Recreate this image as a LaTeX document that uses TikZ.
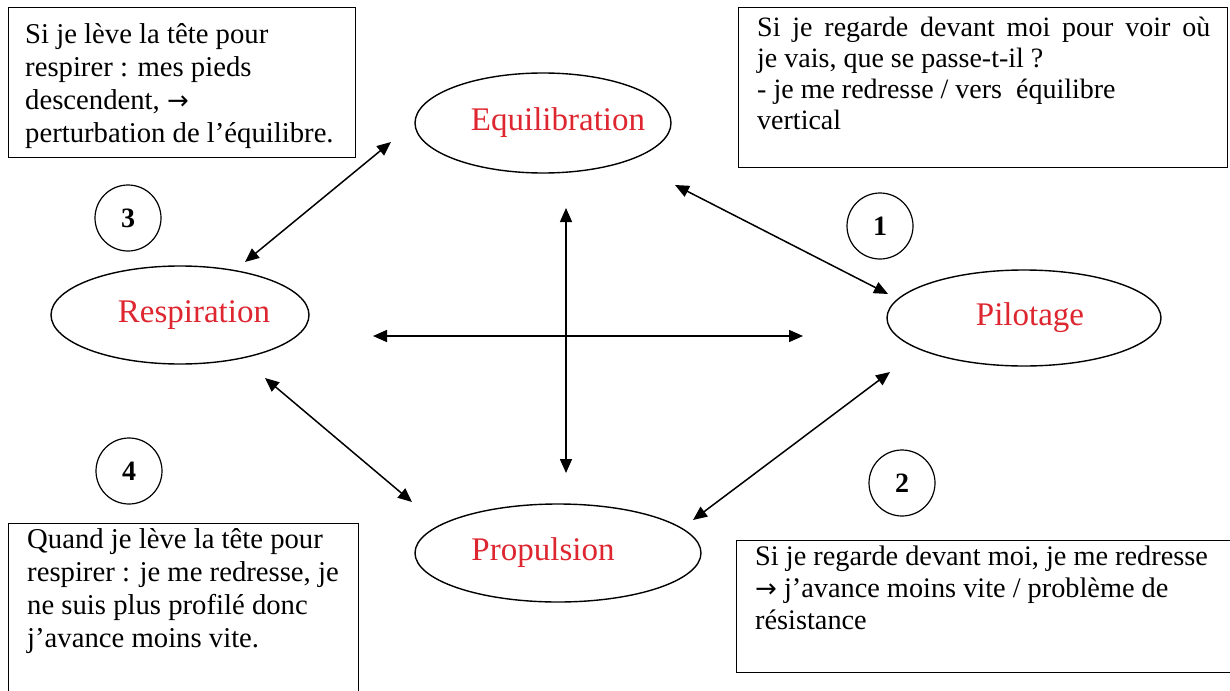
\documentclass[tikz,border=0pt]{standalone}
\usepackage{fontspec}
\setmainfont{Liberation Serif}
\newfontfamily\arrowfont{DejaVu Sans}
\newcommand{\rarr}{{\arrowfont\fontsize{26}{26}\selectfont →}}
\newcommand{\shifted}[2]{\makebox[0pt][c]{\hspace{#1}#2}}
\usetikzlibrary{arrows.meta,shapes.geometric}
\definecolor{lblred}{RGB}{222,38,48}
\begin{document}
\begin{tikzpicture}[x=1pt,y=-1pt,
  tbox/.style={draw, line width=1.4pt, rectangle, inner sep=0pt, anchor=north west},
  txt/.style={align=left, inner sep=0pt, anchor=north west},
  oval/.style={draw, ellipse, line width=1.4pt, inner sep=0pt, text=lblred, font=\fontsize{33}{38}\selectfont},
  num/.style={draw, circle, line width=1.2pt, minimum size=66pt, inner sep=0pt, font=\fontsize{28}{33}\selectfont\bfseries},
  arr/.style={line width=1.5pt, {Triangle[length=14pt,width=12pt]}-{Triangle[length=14pt,width=12pt]}}
]
\clip (0,0) rectangle (1230,690);
\fill[white] (0,0) rectangle (1230,690);

% text boxes
\node[tbox, minimum width=347pt, minimum height=150pt] (b1) at (8,7) {};
\node[txt, font=\fontsize{28.7}{33}\selectfont] (t1) at (25,23)
  {Si je lève la tête pour\\respirer : mes pieds\\descendent, \rarr\\perturbation de l’équilibre.};

\node[tbox, minimum width=489pt, minimum height=160pt] (b2) at (738,7) {};
\node[txt, font=\fontsize{28}{31}\selectfont] (t2) at (757,17)
  {\makebox[453pt][s]{Si je regarde devant moi pour voir où}\\je vais, que se passe-t-il ?\\- je me redresse / vers~ équilibre\\vertical};

\node[tbox, minimum width=350pt, minimum height=180pt] (b3) at (8,523) {};
\node[txt, font=\fontsize{28.7}{33}\selectfont] (t3) at (27,528)
  {Quand je lève la tête pour\\respirer : je me redresse, je\\ne suis plus profilé donc\\j’avance moins vite.};

\node[tbox, minimum width=500pt, minimum height=132pt] (b4) at (736,540) {};
\node[txt, font=\fontsize{28.3}{32}\selectfont] (t4) at (755,546)
  {Si je regarde devant moi, je me redresse\\\rarr{} j’avance moins vite / problème de\\résistance};

% ellipses
\node[oval, minimum width=256pt, minimum height=100pt] (equ) at (543,123) {\shifted{30pt}{Equilibration}};
\node[oval, minimum width=258pt, minimum height=98pt] (res) at (180,315) {\shifted{28pt}{Respiration}};
\node[oval, minimum width=274pt, minimum height=96pt] (pil) at (1024,318) {\shifted{12pt}{Pilotage}};
\node[oval, minimum width=286pt, minimum height=98pt] (pro) at (558,553) {\shifted{-30pt}{Propulsion}};

% numbers
\node[num] (n3) at (128,218) {3};
\node[num] (n1) at (880,226) {1};
\node[num] (n4) at (129,471) {4};
\node[num] (n2) at (902,483) {2};

% arrow end points
\coordinate (er1) at (391,142);
\coordinate (er2) at (245,262);
\coordinate (ep1) at (675,185);
\coordinate (ep2) at (888,294);
\coordinate (rp1) at (265,378);
\coordinate (rp2) at (412,502);
\coordinate (pp1) at (890,372);
\coordinate (pp2) at (693,520);
\coordinate (h1) at (373,336);
\coordinate (h2) at (803,336);
\coordinate (v1) at (566,208);
\coordinate (v2) at (566,473);

\draw[arr] (er1) -- (er2);
\draw[arr] (ep1) -- (ep2);
\draw[arr] (rp1) -- (rp2);
\draw[arr] (pp1) -- (pp2);
\draw[arr] (h1) -- (h2);
\draw[arr] (v1) -- (v2);
\end{tikzpicture}
\end{document}
